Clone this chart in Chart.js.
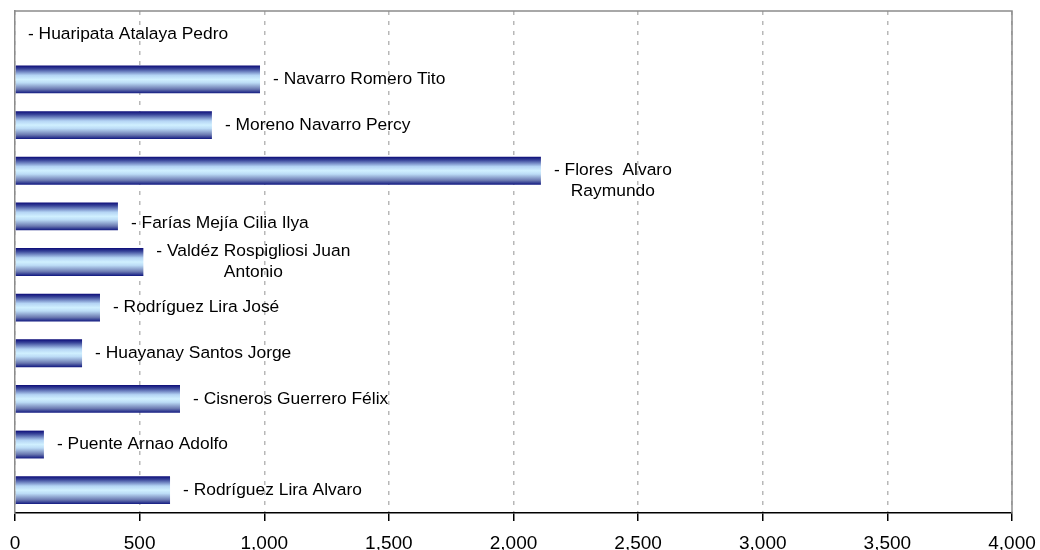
<!DOCTYPE html>
<html>
<head>
<meta charset="utf-8">
<script src="https://cdn.jsdelivr.net/npm/chart.js@4/dist/chart.umd.min.js"></script>
<style>
html,body{margin:0;padding:0;background:#fff;}
#wrap{width:1040px;height:550px;position:relative;}
</style>
</head>
<body>
<div id="wrap"><canvas id="c"></canvas></div>
<script>
const categories = [
  "Huaripata Atalaya Pedro",
  "Navarro Romero Tito",
  "Moreno Navarro Percy",
  "Flores Alvaro Raymundo",
  "Farías Mejía Cilia Ilya",
  "Valdéz Rospigliosi Juan Antonio",
  "Rodríguez Lira José",
  "Huayanay Santos Jorge",
  "Cisneros Guerrero Félix",
  "Puente Arnao Adolfo",
  "Rodríguez Lira Alvaro"
];
const labelLines = [
  ["- Huaripata Atalaya Pedro"],
  ["- Navarro Romero Tito"],
  ["- Moreno Navarro Percy"],
  ["- Flores  Alvaro", "Raymundo"],
  ["- Farías Mejía Cilia Ilya"],
  ["- Valdéz Rospigliosi Juan", "Antonio"],
  ["- Rodríguez Lira José"],
  ["- Huayanay Santos Jorge"],
  ["- Cisneros Guerrero Félix"],
  ["- Puente Arnao Adolfo"],
  ["- Rodríguez Lira Alvaro"]
];
const values = [0, 983, 790, 2110, 413, 515, 341, 269, 662, 116, 622];
const xMin = 0, xMax = 4000, xStep = 500;

const CAT_PCT = 1.0, BAR_PCT = 0.61;
const FONT = '"Liberation Sans", Arial, Helvetica, sans-serif';

function barGradient(context) {
  const chart = context.chart;
  const {ctx, chartArea, scales} = chart;
  if (!chartArea || !scales.y) return '#8fb8e8';
  const y = scales.y;
  const i = context.dataIndex;
  const c = y.getPixelForValue(i);
  const step = Math.abs(y.getPixelForValue(1) - y.getPixelForValue(0));
  const h = step * CAT_PCT * BAR_PCT;
  const g = ctx.createLinearGradient(0, c - h / 2, 0, c + h / 2);
  g.addColorStop(0.0, '#0c0c78');
  g.addColorStop(0.12, '#3a469a');
  g.addColorStop(0.35, '#b4d4f4');
  g.addColorStop(0.5, '#d0f0ff');
  g.addColorStop(0.62, '#bcdcf6');
  g.addColorStop(0.85, '#6a78b0');
  g.addColorStop(1.0, '#101880');
  return g;
}

const frame = {
  id: 'frame',
  afterDraw(chart) {
    const {ctx, chartArea: a} = chart;
    ctx.save();
    ctx.strokeStyle = '#8c8c8c';
    ctx.lineWidth = 1.5;
    ctx.beginPath();
    ctx.moveTo(a.left, a.top);
    ctx.lineTo(a.right, a.top);
    ctx.lineTo(a.right, a.bottom);
    ctx.stroke();
    ctx.restore();
  }
};

const barLabels = {
  id: 'barLabels',
  afterDatasetsDraw(chart, args, opts) {
    const ctx = chart.ctx;
    const meta = chart.getDatasetMeta(0);
    const shift = opts.shift || {};
    ctx.save();
    ctx.font = '17.4px ' + FONT;
    ctx.fillStyle = '#000';
    ctx.textBaseline = 'middle';
    ctx.textAlign = 'center';
    const lh = 21;
    meta.data.forEach((bar, i) => {
      const lines = labelLines[i];
      const w = Math.max(...lines.map(l => ctx.measureText(l).width));
      const cx = bar.x + 13 + w / 2;
      const y0 = bar.y + (shift[i] || 0) - (lines.length - 1) * lh / 2;
      lines.forEach((l, j) => ctx.fillText(l, cx, y0 + j * lh));
    });
    ctx.restore();
  }
};

new Chart(document.getElementById('c'), {
  type: 'bar',
  data: {
    labels: categories,
    datasets: [{
      data: values,
      backgroundColor: barGradient,
      borderWidth: 0,
      categoryPercentage: CAT_PCT,
      barPercentage: BAR_PCT
    }]
  },
  options: {
    indexAxis: 'y',
    responsive: true,
    maintainAspectRatio: false,
    animation: false,
    layout: { padding: { left: 15, right: 28, top: 11, bottom: 0 } },
    plugins: {
      legend: { display: false },
      tooltip: { enabled: false },
      barLabels: { shift: { 3: 10, 4: 7 } }
    },
    scales: {
      x: {
        min: xMin, max: xMax,
        afterFit: s => { s.height = 37; s.paddingLeft = 0; s.paddingRight = 0; },
        ticks: {
          stepSize: xStep,
          autoSkip: false,
          maxRotation: 0,
          color: '#000',
          padding: 14,
          font: { family: FONT, size: 19, lineHeight: 0.9 },
          callback: v => Number(v).toLocaleString('en-US')
        },
        grid: {
          color: '#b8b8b8',
          lineWidth: 1.5,
          tickColor: '#000',
          tickLength: 8,
          tickWidth: 1.5
        },
        border: { color: '#000', width: 1.5, dash: [4, 6] }
      },
      y: {
        afterFit: s => { s.width = 0; },
        ticks: { display: false },
        grid: { display: false, drawTicks: false },
        border: { display: true, color: '#8c8c8c', width: 1.5 }
      }
    }
  },
  plugins: [frame, barLabels]
});
</script>
</body>
</html>
